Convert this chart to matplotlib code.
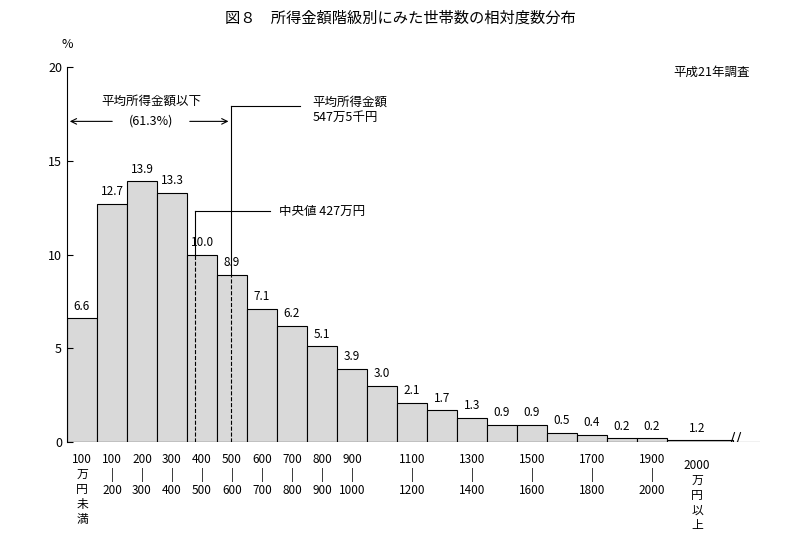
import matplotlib.pyplot as plt
from matplotlib.lines import Line2D

plt.rcParams["font.family"] = "Noto Sans CJK JP"

values = [6.6, 12.7, 13.9, 13.3, 10.0, 8.9, 7.1, 6.2, 5.1, 3.9,
          3.0, 2.1, 1.7, 1.3, 0.9, 0.9, 0.5, 0.4, 0.2, 0.2]
last_value = 1.2
labels = ["100\n万\n円\n未\n満", "100\n|\n200", "200\n|\n300", "300\n|\n400", "400\n|\n500",
          "500\n|\n600", "600\n|\n700", "700\n|\n800", "800\n|\n900", "900\n|\n1000",
          "", "1100\n|\n1200", "", "1300\n|\n1400", "", "1500\n|\n1600", "",
          "1700\n|\n1800", "", "1900\n|\n2000"]
mean_income = 547.5
median_income = 427

fig = plt.figure(figsize=(8, 5.51), dpi=100)
ax = fig.add_axes([67 / 800, 1 - 442 / 551, (760 - 67) / 800, 375 / 551])
xs = [i + 0.5 for i in range(len(values))]
ax.bar(xs, values, width=1, color="#d9d9d9", edgecolor="black", linewidth=0.8)
# last open-ended class, drawn very low
ax.bar(20, 0.12, width=2.2, align="edge", color="#d9d9d9", edgecolor="black", linewidth=0.8)
for x, v in zip(xs, values):
    ax.text(x, v + 0.3, f"{v:.1f}", ha="center", va="bottom", fontsize=8.5)
ax.text(21, 0.4, f"{last_value:.1f}", ha="center", va="bottom", fontsize=8.5)

ax.set_xlim(0, 23.1)
ax.set_ylim(0, 20)
ax.set_yticks([0, 5, 10, 15, 20])
ax.tick_params(axis="y", direction="in", length=4, labelsize=9)
ax.set_xticks(xs)
ax.set_xticklabels(labels, fontsize=8.5, linespacing=1.2, va="top")
ax.tick_params(axis="x", length=0, pad=8)
ax.text(21, -0.9, "2000\n万\n円\n以\n上", ha="center", va="top", fontsize=8.5, linespacing=1.2)
for s in ["top", "right", "bottom"]:
    ax.spines[s].set_visible(False)
ax.axhline(0, color="black", linewidth=0.8, xmax=22.3 / 23.1)
ax.plot([22.3, 23.1], [0, 0], color="black", linewidth=0.8)
# break mark
for dx in (22.15, 22.35):
    ax.add_line(Line2D([dx - 0.1, dx + 0.1], [-0.5, 0.5], color="black", linewidth=0.8))

# mean and median lines
mx = mean_income / 100
ax.plot([mx, mx], [0, values[5]], "k--", linewidth=0.8)
ax.plot([mx, mx], [values[5], 17.9], "k-", linewidth=0.8)
ax.plot([mx, mx + 2.3], [17.9, 17.9], "k-", linewidth=0.8)
ax.text(mx + 2.7, 17.7, "平均所得金額\n547万5千円", ha="left", va="center", fontsize=9, linespacing=1.2)
dx_ = median_income / 100
ax.plot([dx_, dx_], [0, values[4]], "k--", linewidth=0.8)
ax.plot([dx_, dx_], [values[4], 12.3], "k-", linewidth=0.8)
ax.plot([dx_, dx_ + 2.5], [12.3, 12.3], "k-", linewidth=0.8)
ax.text(dx_ + 2.8, 12.3, "中央値 427万円", ha="left", va="center", fontsize=9)

ax.text(2.8, 18.2, "平均所得金額以下", ha="center", va="center", fontsize=9)
ax.text(2.8, 17.1, "(61.3%)", ha="center", va="center", fontsize=9)
ax.annotate("", xy=(0, 17.1), xytext=(1.6, 17.1),
            arrowprops=dict(arrowstyle="->", linewidth=0.8))
ax.annotate("", xy=(mx, 17.1), xytext=(4.0, 17.1),
            arrowprops=dict(arrowstyle="->", linewidth=0.8))

fig.text(67 / 800, 1 - 45 / 551, "%", ha="center", va="center", fontsize=9)
fig.text(712 / 800, 1 - 72 / 551, "平成21年調査", ha="center", va="center", fontsize=9)
fig.text(400 / 800, 1 - 18 / 551, "図８　所得金額階級別にみた世帯数の相対度数分布",
         ha="center", va="center", fontsize=11)
fig.savefig("out.png", dpi=100)
